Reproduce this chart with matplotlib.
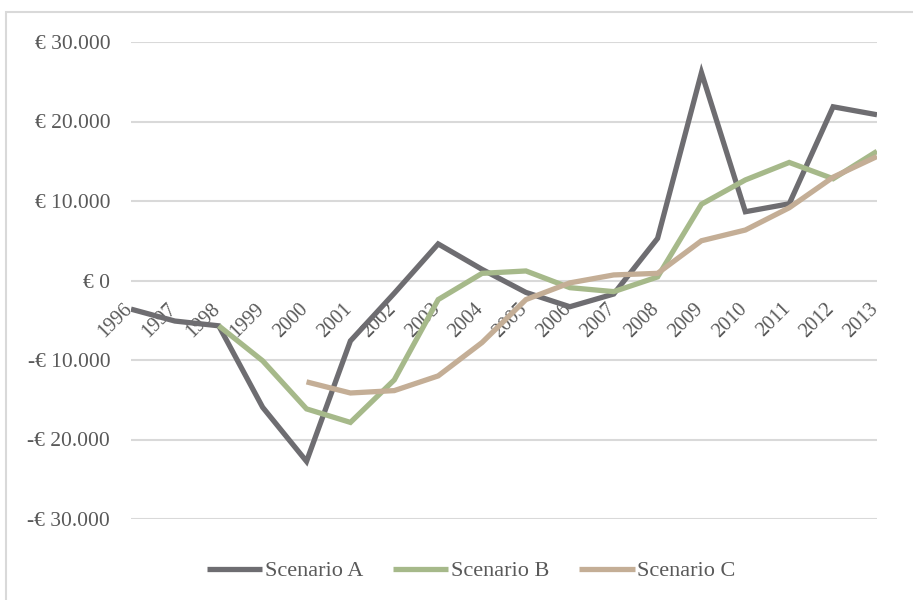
import matplotlib
matplotlib.use("Agg")
import matplotlib.pyplot as plt
import matplotlib.transforms as mtrans
from matplotlib.patches import Rectangle
import numpy as np

years = list(range(1996, 2014))
year_labels = [str(y) for y in years]

scenario_a = [-3600, -5100, -5700, -15950, -22750, -7600, -1600, 4600, 1400, -1500,
              -3300, -1700, 5300, 26150, 8650, 9650, 21850, 20850]
scenario_b = [None, None, -5700, -10100, -16150, -17850, -12500, -2400, 900, 1200,
              -900, -1400, 450, 9600, 12650, 14850, 12800, 16250]
scenario_c = [None, None, None, None, -12750, -14150, -13850, -12000, -7800, -2400,
              -300, 700, 900, 5000, 6350, 9150, 13000, 15600]

series_names = ["Scenario A", "Scenario B", "Scenario C"]
colors = ["#6e6d71", "#a6b98a", "#c4ae96"]
yticks = [-30000, -20000, -10000, 0, 10000, 20000, 30000]

def fmt(v):
    if v == 0:
        return "€ 0"
    s = f"{abs(v):,}".replace(",", ".")
    return ("-€ " if v < 0 else "€ ") + s

plt.rcParams['font.family'] = ['Liberation Serif', 'DejaVu Serif']
text_color = "#595959"

fig = plt.figure(figsize=(9.13, 6.0), dpi=100)
ax = fig.add_axes([131/913, 1-519/600, (877-131)/913, (519-42)/600])

x = np.arange(len(years))
for name, vals, c in zip(series_names, [scenario_a, scenario_b, scenario_c], colors):
    v = np.array([np.nan if t is None else t for t in vals], dtype=float)
    ax.plot(x, v, color=c, lw=3.8, label=name, solid_capstyle='butt', solid_joinstyle='miter')

ax.set_xlim(0, len(years)-1)
ax.set_ylim(-30000, 30000)
ax.set_yticks(yticks)
ax.set_yticklabels([fmt(v) for v in yticks], fontsize=15.5, color=text_color)
ax.tick_params(axis='y', length=0, pad=15)
ax.grid(axis='y', color="#d9d9d9", lw=1.5)
ax.set_axisbelow(True)
ax.set_xticks([])
for s in ax.spines.values():
    s.set_visible(False)

# category labels along the zero line
off = mtrans.offset_copy(ax.transData, fig=fig, x=-5.8, y=-13.7, units='points')
for xi, lab in zip(x, year_labels):
    ax.text(xi, 0, lab, transform=off, rotation=45, rotation_mode='anchor',
            ha='right', va='top', fontsize=14.5, color=text_color, zorder=1)

leg = fig.legend(loc='center', bbox_to_anchor=(471/913, 1-571/600), ncol=3,
                 frameon=False, fontsize=16, handlelength=2.5, handletextpad=0.1,
                 columnspacing=1.35)
for t in leg.get_texts():
    t.set_color(text_color)

fig.patches.append(Rectangle((6/913, -0.05), 1.1, 1-12/600+0.05, transform=fig.transFigure,
                             fill=False, edgecolor="#d9d9d9", lw=1.5))

fig.savefig("out.png", dpi=100)
